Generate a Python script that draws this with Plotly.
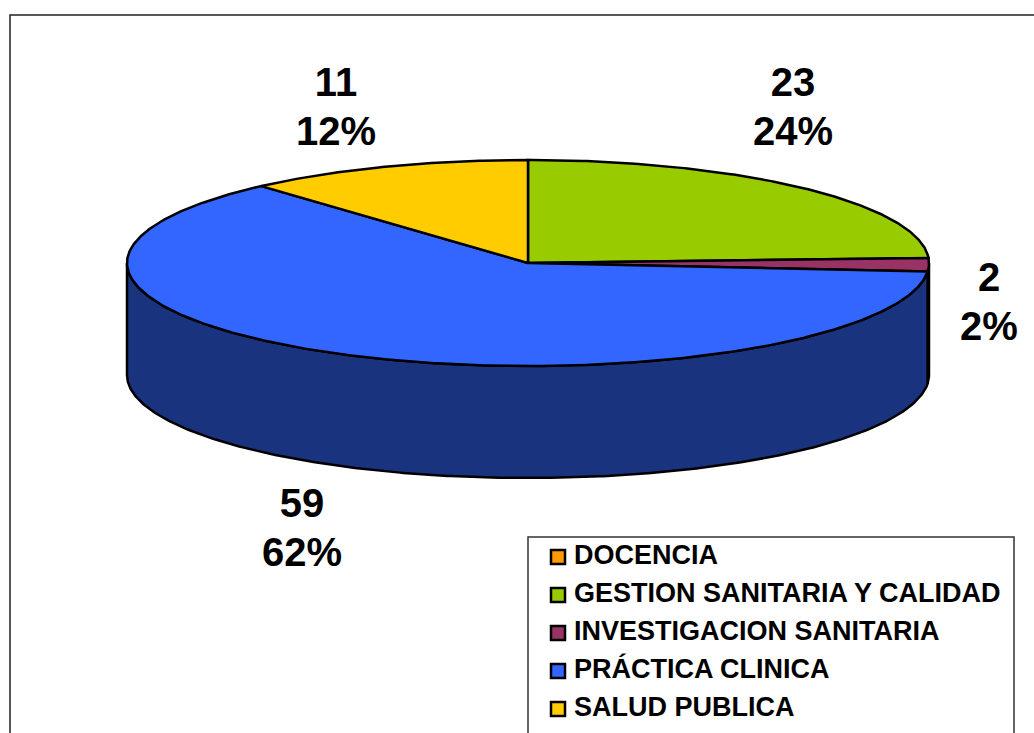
import numpy as np
import plotly.graph_objects as go

categories = ["DOCENCIA", "GESTION SANITARIA Y CALIDAD", "INVESTIGACION SANITARIA", "PRÁCTICA CLINICA", "SALUD PUBLICA"]
values = [0, 23, 2, 59, 11]
top_colors = ["#FF9900", "#99CC00", "#993366", "#3366FF", "#FFCC00"]
side_colors = ["#7F4C00", "#4C6600", "#4C1933", "#19337F", "#7F6600"]

# Label anchors (x, y of the count line) for the visible slices
label_pos = {1: (793, 86), 2: (989, 281), 3: (302, 507), 4: (336, 86)}

CX, CY, RX, RY, DEPTH = 528, 263, 401, 103, 112
FONT = "Liberation Sans"
W, H = 1034, 733


def arc(a0, a1, dy=0.0):
    n = max(2, int(abs(a1 - a0) * 2) + 2)
    t = np.radians(np.linspace(a0, a1, n))
    return CX + RX * np.sin(t), CY - RY * np.cos(t) + dy


fig = go.Figure()
total = sum(values)
edges = np.concatenate([[0], np.cumsum(values)]) / total * 360

common = dict(mode="lines", fill="toself", hoverinfo="skip", showlegend=False)
outline = dict(color="black", width=2.5)

# Side wall (only the front half, 90 to 270 degrees, is visible)
for i in range(len(values)):
    a0, a1 = max(edges[i], 90), min(edges[i + 1], 270)
    if a1 <= a0:
        continue
    xt, yt = arc(a0, a1)
    xb, yb = arc(a1, a0, DEPTH)
    fig.add_trace(go.Scatter(x=np.r_[xt, xb, xt[0]], y=np.r_[yt, yb, yt[0]],
                             fillcolor=side_colors[i], line=outline, **common))

# Top face
for i in range(len(values)):
    if values[i] == 0:
        continue
    xt, yt = arc(edges[i], edges[i + 1])
    fig.add_trace(go.Scatter(x=np.r_[CX, xt, CX], y=np.r_[CY, yt, CY],
                             fillcolor=top_colors[i], line=outline, **common))

# Data labels: count and percentage as two lines
for i, (lx, ly) in label_pos.items():
    pct = f"{round(values[i] / total * 100)}%"
    fig.add_trace(go.Scatter(x=[lx, lx], y=[ly, ly + 49], text=[str(values[i]), pct],
                             mode="text", textposition="middle center", hoverinfo="skip", showlegend=False,
                             textfont=dict(family=FONT, size=40, color="black", weight="bold")))

# Legend
rows = [557 + 38 * k for k in range(len(categories))]
fig.add_trace(go.Scatter(x=[558] * len(rows), y=rows, mode="markers", hoverinfo="skip", showlegend=False,
                         marker=dict(symbol="square", size=14, color=top_colors, line=dict(color="black", width=2.5))))
fig.add_trace(go.Scatter(x=[574] * len(rows), y=rows, text=categories, mode="text",
                         textposition="middle right", hoverinfo="skip", showlegend=False,
                         textfont=dict(family=FONT, size=27, color="black", weight="bold")))

fig.update_layout(
    width=W, height=H, autosize=False,
    margin=dict(l=0, r=0, t=0, b=0),
    paper_bgcolor="white", plot_bgcolor="white",
    xaxis=dict(range=[0, W], visible=False, fixedrange=True),
    yaxis=dict(range=[H, 0], visible=False, fixedrange=True),
    shapes=[
        dict(type="rect", x0=10, x1=W + 20, y0=15, y1=H + 20, line=dict(color="#222222", width=1.5), layer="below"),
        dict(type="rect", x0=528, x1=1014, y0=537, y1=H + 20, line=dict(color="#333333", width=1.5), layer="below"),
    ],
)

fig.write_html("out.html", config={"displayModeBar": False},
               post_script="document.body.style.margin='0';document.body.style.overflow='hidden';")
